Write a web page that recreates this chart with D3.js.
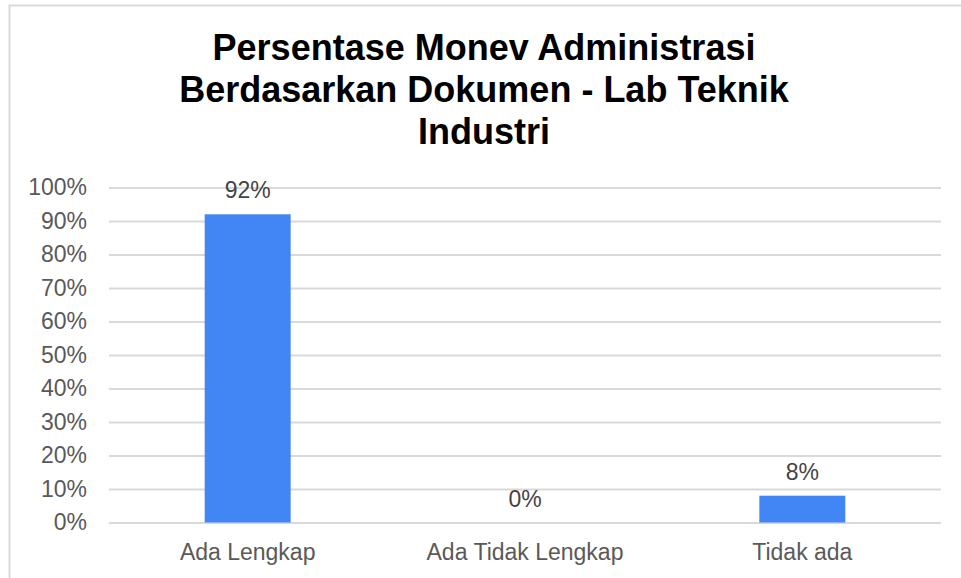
<!DOCTYPE html>
<html>
<head>
<meta charset="utf-8">
<script src="https://cdn.jsdelivr.net/npm/d3@7"></script>
<style>
  body { margin: 0; background: #fff; }
  text { font-family: "Liberation Sans", Arial, sans-serif; }
</style>
</head>
<body>
<div id="chart"></div>
<script>
const width = 961;
const height = 578;
const margin = {top: 187.5, right: 20, bottom: 55.5, left: 109};

// data
const categories = ["Ada Lengkap", "Ada Tidak Lengkap", "Tidak ada"];
const values = [0.92, 0, 0.08];
const valueLabels = ["92%", "0%", "8%"];
const yTicks = [0, 0.1, 0.2, 0.3, 0.4, 0.5, 0.6, 0.7, 0.8, 0.9, 1];
const titleLines = ["Persentase Monev Administrasi", "Berdasarkan Dokumen - Lab Teknik", "Industri"];

const svg = d3.select("#chart")
    .append("svg")
    .attr("width", width)
    .attr("height", height);

// frame
svg.append("rect")
    .attr("x", 9.5).attr("y", 5.5)
    .attr("width", 1000).attr("height", 1000)
    .attr("fill", "none")
    .attr("stroke", "#d9d9d9")
    .attr("stroke-width", 2);

// title
svg.append("g")
    .selectAll("text")
    .data(titleLines)
    .join("text")
    .attr("x", 484)
    .attr("y", (d, i) => 60 + i * 42)
    .attr("text-anchor", "middle")
    .attr("font-size", 36)
    .attr("font-weight", "bold")
    .attr("fill", "#000")
    .text(d => d);

const x = d3.scaleBand()
    .domain(categories)
    .range([margin.left, width - margin.right])
    .paddingInner(0.69)
    .paddingOuter(0.345);

const y = d3.scaleLinear()
    .domain([0, 1])
    .range([height - margin.bottom, margin.top]);

// y axis with grid lines
const yAxis = d3.axisLeft(y)
    .tickValues(yTicks)
    .tickFormat(d3.format(".0%"))
    .tickSize(-(width - margin.right - margin.left))
    .tickPadding(22);

const gy = svg.append("g")
    .attr("transform", `translate(${margin.left},0)`)
    .call(yAxis);
gy.select(".domain").remove();
gy.selectAll("line").attr("stroke", "#d9d9d9").attr("stroke-width", 2);
gy.selectAll("text")
    .attr("font-size", 23)
    .attr("font-family", "Liberation Sans, Arial, sans-serif")
    .attr("fill", "#595959");

// bars
svg.append("g")
    .selectAll("rect")
    .data(values)
    .join("rect")
    .attr("x", (d, i) => x(categories[i]))
    .attr("y", d => y(d))
    .attr("width", x.bandwidth())
    .attr("height", d => y(0) - y(d))
    .attr("fill", "#4285f4");

// value labels
svg.append("g")
    .selectAll("text")
    .data(values)
    .join("text")
    .attr("x", (d, i) => x(categories[i]) + x.bandwidth() / 2)
    .attr("y", d => y(d) - 16)
    .attr("text-anchor", "middle")
    .attr("font-size", 23)
    .attr("fill", "#444")
    .text((d, i) => valueLabels[i]);

// x axis labels
const xAxis = d3.axisBottom(x).tickSize(0).tickPadding(21);
const gx = svg.append("g")
    .attr("transform", `translate(0,${y(0)})`)
    .call(xAxis);
gx.select(".domain").remove();
gx.selectAll("text")
    .attr("font-size", 23)
    .attr("font-family", "Liberation Sans, Arial, sans-serif")
    .attr("fill", "#595959");
</script>
</body>
</html>
